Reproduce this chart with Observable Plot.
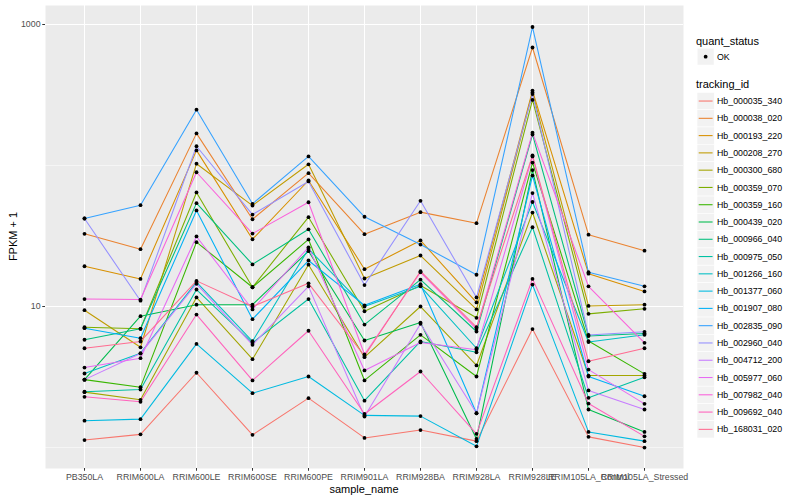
<!DOCTYPE html>
<html><head><meta charset="utf-8">
<script src="https://cdn.jsdelivr.net/npm/d3@7"></script>
<script src="https://cdn.jsdelivr.net/npm/@observablehq/plot@0.6"></script>
<style>
body{margin:0;background:#fff;font-family:"Liberation Sans",Arial,Helvetica,sans-serif;}
#wrap{position:relative;width:800px;height:500px;}
</style></head><body><div id="wrap"></div>
<script>
const samples = ["PB350LA","RRIM600LA","RRIM600LE","RRIM600SE","RRIM600PE","RRIM901LA","RRIM928BA","RRIM928LA","RRIM928LE","RRIM105LA_Control","RRIM105LA_Stressed"];
const trackingIds = ["Hb_000035_340","Hb_000038_020","Hb_000193_220","Hb_000208_270","Hb_000300_680","Hb_000359_070","Hb_000359_160","Hb_000439_020","Hb_000966_040","Hb_000975_050","Hb_001266_160","Hb_001377_060","Hb_001907_080","Hb_002835_090","Hb_002960_040","Hb_004712_200","Hb_005977_060","Hb_007982_040","Hb_009692_040","Hb_168031_020"];
const idColors = ["#F8766D","#EA8331","#D89000","#C09B00","#A3A500","#7CAE00","#39B600","#00BB4E","#00BF7D","#00C1A3","#00BFC4","#00BAE0","#00B0F6","#35A2FF","#9590FF","#C77CFF","#E76BF3","#FA62DB","#FF62BC","#FF6C91"];
const majorTicks = [10, 1000];
const minorTicks = [1, 100];

const hb_000035_340 = [1.13,1.24,3.39,1.23,2.24,1.17,1.33,1.11,6.92,1.19,1.0];
const hb_000038_020 = [32.8,25.5,169,41.6,88.2,32.6,46.7,39.0,687,32.3,24.9];
const hb_000193_220 = [19.3,15.7,128,30.0,78.3,18.4,29.4,10.7,340,17.1,12.8];
const hb_000208_270 = [9.42,5.14,103,52.0,102,15.8,23.0,9.53,330,10.1,10.3];
const hb_000300_680 = [2.47,2.18,11.6,4.23,19.8,4.37,10.0,3.82,46.4,3.24,3.24];
const hb_000359_070 = [7.13,6.95,64.4,13.7,43.0,9.26,14.1,8.32,292,8.87,9.63];
const hb_000359_160 = [3.03,2.68,28.6,13.7,29.9,2.99,6.30,3.19,105,5.69,3.33];
const hb_000439_020 = [3.03,8.54,10.3,10.3,24.7,5.74,7.70,1.15,92.9,1.86,1.29];
const hb_000966_040 = [5.81,6.95,54.1,19.9,35.3,7.45,15.5,6.65,166,6.18,6.44];
const hb_000975_050 = [2.49,2.58,13.2,5.53,11.3,2.15,5.65,4.74,36.5,2.25,3.15];
const hb_001266_160 = [3.35,4.67,14.9,5.67,25.6,10.0,13.9,5.06,55.1,5.60,6.30];
const hb_001377_060 = [1.55,1.59,5.43,2.43,3.19,1.69,1.67,1.02,14.3,1.29,1.11];
const hb_001907_080 = [7.02,5.96,48.0,8.13,21.2,10.2,14.4,1.75,84.9,3.19,2.31];
const hb_002835_090 = [42.1,52.3,249,53.5,116,43.3,27.5,16.8,960,17.5,13.9];
const hb_002960_040 = [42.1,11.0,137,44.9,77.1,14.2,56.2,11.6,321,6.28,6.62];
const hb_004712_200 = [3.03,4.64,14.5,5.35,13.9,1.66,7.54,1.75,63.8,2.54,1.86];
const hb_005977_060 = [3.69,4.30,31.4,9.53,26.3,3.52,5.56,4.93,116,3.57,2.04];
const hb_007982_040 = [11.3,11.2,89.6,32.9,54.9,4.57,17.5,6.95,171,13.9,5.53];
const hb_009692_040 = [2.29,2.11,8.77,2.99,6.73,1.73,3.46,1.25,15.7,2.05,1.20];
const hb_168031_020 = [5.06,5.65,15.2,10.0,14.6,4.46,17.8,7.13,118,4.09,5.06];

const seriesValues = [hb_000035_340,hb_000038_020,hb_000193_220,hb_000208_270,hb_000300_680,hb_000359_070,hb_000359_160,hb_000439_020,hb_000966_040,hb_000975_050,hb_001266_160,hb_001377_060,hb_001907_080,hb_002835_090,hb_002960_040,hb_004712_200,hb_005977_060,hb_007982_040,hb_009692_040,hb_168031_020];

const data = trackingIds.flatMap((id, i) => samples.map((s, j) => ({id, sample: s, value: seriesValues[i][j], quant_status: "OK"})));

const W = 800, H = 500, ML = 45, MR = 117, MT = 5, MB = 32;
const FONT = "'Liberation Sans', Arial, Helvetica, sans-serif";

const plot = Plot.plot({
  width: W, height: H,
  marginLeft: ML, marginRight: MR, marginTop: MT, marginBottom: MB,
  style: {fontFamily: FONT, fontSize: "8.8px", background: "white", color: "black"},
  x: {type: "point", domain: samples, padding: 0.6, label: null},
  y: {type: "log", domain: [0.71, 1364], label: null},
  color: {domain: trackingIds, range: idColors},
  marks: [
    Plot.frame({fill: "#EBEBEB", stroke: null}),
    Plot.ruleY(minorTicks, {stroke: "white", strokeWidth: 0.53}),
    Plot.ruleY(majorTicks, {stroke: "white", strokeWidth: 1.07}),
    Plot.ruleX(samples, {stroke: "white", strokeWidth: 1.07}),
    Plot.line(data, {x: "sample", y: "value", z: "id", stroke: "id", strokeWidth: 1.07}),
    Plot.dot(data, {x: "sample", y: "value", r: 1.9, fill: "black", stroke: null}),
    Plot.axisY({ticks: majorTicks, tickFormat: d => String(d), tickSize: 2.75, tickPadding: 2.2, label: null}),
    Plot.axisX({tickSize: 2.75, tickPadding: 2.2, label: null})
  ]
});
document.getElementById("wrap").appendChild(plot);

const svg = d3.select(plot.tagName.toLowerCase() === "svg" ? plot : plot.querySelector("svg"));
svg.selectAll('g[aria-label="y-axis tick"], g[aria-label="x-axis tick"]').attr("stroke", "#333333");
svg.selectAll('g[aria-label="y-axis tick label"], g[aria-label="x-axis tick label"]').attr("fill", "#4D4D4D");

// axis titles
svg.append("text").attr("x", (ML + (W - MR)) / 2).attr("y", 493)
  .attr("text-anchor", "middle").attr("font-size", 11).attr("font-family", FONT).attr("fill", "black").text("sample_name");
svg.append("text").attr("transform", `translate(17,${(MT + H - MB) / 2}) rotate(-90)`)
  .attr("text-anchor", "middle").attr("font-size", 11).attr("font-family", FONT).attr("fill", "black").text("FPKM + 1");

// legends
const lg = svg.append("g").attr("font-family", FONT).attr("text-anchor", "start").attr("fill", "black");
const LX = 697, KEY = 17.28;
lg.append("text").attr("x", LX - 1).attr("y", 44.5).attr("font-size", 11).attr("text-anchor", "start").text("quant_status");
lg.append("rect").attr("x", LX).attr("y", 48).attr("width", KEY).attr("height", KEY).attr("fill", "#F2F2F2").attr("stroke", "white");
lg.append("circle").attr("cx", LX + KEY / 2).attr("cy", 48 + KEY / 2).attr("r", 1.9).attr("fill", "black");
lg.append("text").attr("x", 717).attr("y", 48 + KEY / 2).attr("dy", "0.35em").attr("font-size", 8.8).attr("text-anchor", "start").text("OK");
lg.append("text").attr("x", LX - 1).attr("y", 88).attr("font-size", 11).attr("text-anchor", "start").text("tracking_id");
trackingIds.forEach((id, i) => {
  const y0 = 92.4 + i * KEY;
  lg.append("rect").attr("x", LX).attr("y", y0).attr("width", KEY).attr("height", KEY).attr("fill", "#F2F2F2").attr("stroke", "white").attr("stroke-width", 0.6);
  lg.append("line").attr("x1", LX + 1.7).attr("x2", LX + KEY - 1.7).attr("y1", y0 + KEY / 2).attr("y2", y0 + KEY / 2)
    .attr("stroke", idColors[i]).attr("stroke-width", 1.07);
  lg.append("text").attr("x", 717).attr("y", y0 + KEY / 2).attr("dy", "0.35em").attr("font-size", 8.8).attr("text-anchor", "start").text(id);
});
</script></body></html>
